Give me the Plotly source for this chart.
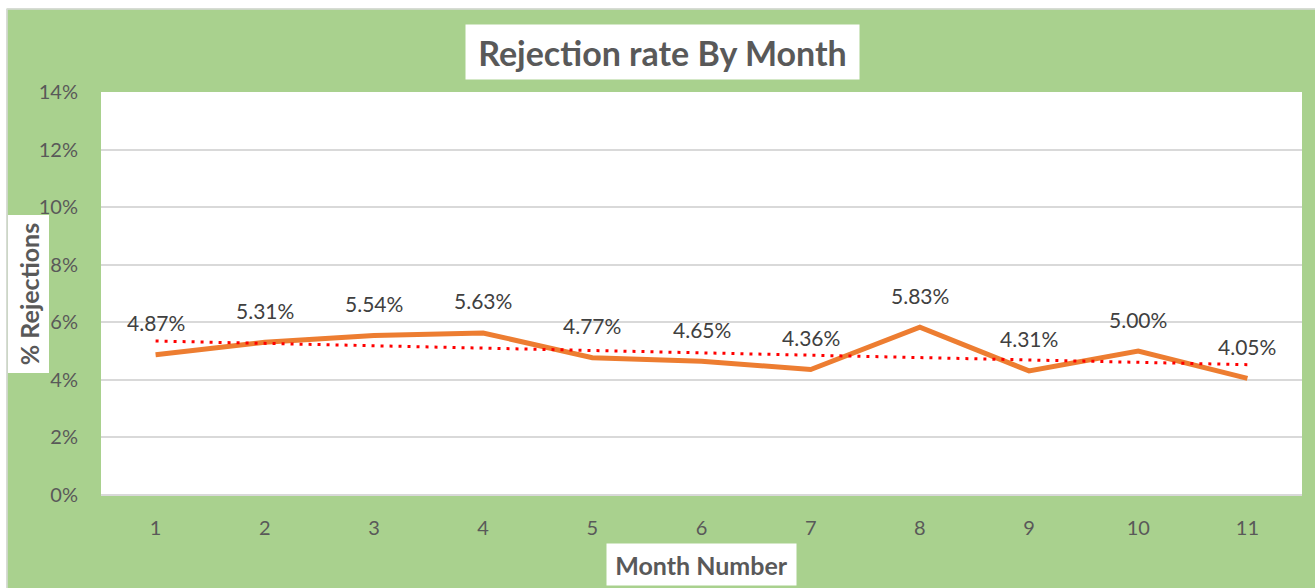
import numpy as np
import plotly.graph_objects as go

# data
months = [1, 2, 3, 4, 5, 6, 7, 8, 9, 10, 11]
rejection_rate = [0.0487, 0.0531, 0.0554, 0.0563, 0.0477, 0.0465,
                  0.0436, 0.0583, 0.0431, 0.0500, 0.0405]
y_ticks = [0, 0.02, 0.04, 0.06, 0.08, 0.10, 0.12, 0.14]

GREEN = "#A9D18E"
TEXT = "#595959"
FONT = "Lato, 'Open Sans', sans-serif"

W, H = 1315, 588
L, R, T, B = 101, 13, 92, 93
PW, PH = W - L - R, H - T - B


def px_x(px):
    return (px - L) / PW


def px_y(py):
    return (H - B - py) / PH


# linear trendline (same as Excel's linear fit)
slope, icpt = np.polyfit(months, rejection_rate, 1)
trend_x = [months[0], months[-1]]
trend_y = [icpt + slope * m for m in trend_x]

fig = go.Figure()

fig.add_trace(go.Scatter(
    x=months, y=rejection_rate,
    mode="lines",
    name="Rejection rate",
    line=dict(color="#ED7D31", width=5),
    hoverinfo="skip",
))

fig.add_trace(go.Scatter(
    x=trend_x, y=trend_y,
    mode="lines",
    name="Linear trend",
    line=dict(color="#FF0000", width=3, dash="3px,6px"),
    hoverinfo="skip",
))

annotations = []
# data labels above each point
for m, v in zip(months, rejection_rate):
    annotations.append(dict(
        x=m, y=v, xref="x", yref="y",
        text=f"{v * 100:.2f}%",
        showarrow=False, yshift=32,
        xanchor="center", yanchor="middle",
        font=dict(family=FONT, size=21, color="#404040"),
    ))

# title / axis titles in white boxes
annotations.append(dict(
    x=px_x(662.5), y=px_y(52), xref="paper", yref="paper",
    text="<b>Rejection rate By Month</b>", showarrow=False,
    xanchor="center", yanchor="middle",
    width=393, height=54, borderpad=0, bgcolor="white",
    font=dict(family=FONT, size=34, color=TEXT),
))
annotations.append(dict(
    x=px_x(28), y=px_y(294.5), xref="paper", yref="paper",
    text="<b>% Rejections</b>", showarrow=False, textangle=-90,
    xanchor="center", yanchor="middle",
    width=157, height=40, borderpad=0, bgcolor="white",
    font=dict(family=FONT, size=25, color=TEXT),
))
annotations.append(dict(
    x=px_x(701.5), y=px_y(564.5), xref="paper", yref="paper",
    text="<b>Month Number</b>", showarrow=False,
    xanchor="center", yanchor="middle",
    width=189, height=41, borderpad=0, bgcolor="white",
    font=dict(family=FONT, size=25, color=TEXT),
))

# white strip + grey frame round the green chart area
shapes = [
    dict(type="rect", xref="paper", yref="paper",
         x0=px_x(0), x1=px_x(W), y0=px_y(0), y1=px_y(8.5),
         fillcolor="white", line=dict(width=0)),
    dict(type="rect", xref="paper", yref="paper",
         x0=px_x(0), x1=px_x(6.5), y0=px_y(0), y1=px_y(H),
         fillcolor="white", line=dict(width=0)),
    dict(type="line", xref="paper", yref="paper",
         x0=px_x(7), x1=px_x(W), y0=px_y(9), y1=px_y(9),
         line=dict(color="#D9D9D9", width=1.5)),
    dict(type="line", xref="paper", yref="paper",
         x0=px_x(7), x1=px_x(7), y0=px_y(9), y1=px_y(H),
         line=dict(color="#D9D9D9", width=1.5)),
]

fig.update_layout(
    width=W, height=H,
    margin=dict(l=L, r=R, t=T, b=B, pad=0),
    paper_bgcolor=GREEN,
    plot_bgcolor="white",
    showlegend=False,
    annotations=annotations,
    shapes=shapes,
    xaxis=dict(
        range=[0.5, 11.5], tickvals=months,
        showgrid=False, zeroline=False, showline=False,
        ticks="", ticklabelstandoff=19,
        tickfont=dict(family=FONT, size=20, color=TEXT),
    ),
    yaxis=dict(
        range=[0, 0.14], tickvals=y_ticks, tickformat=".0%",
        showgrid=True, gridcolor="#D9D9D9", gridwidth=1.5,
        zeroline=True, zerolinecolor="#D9D9D9", zerolinewidth=1.5,
        showline=False, ticks="", ticklabelstandoff=22,
        tickfont=dict(family=FONT, size=20, color=TEXT),
    ),
)

fig.write_html(
    "out.html",
    config={"displayModeBar": False},
    post_script="document.body.style.margin='0';",
)
